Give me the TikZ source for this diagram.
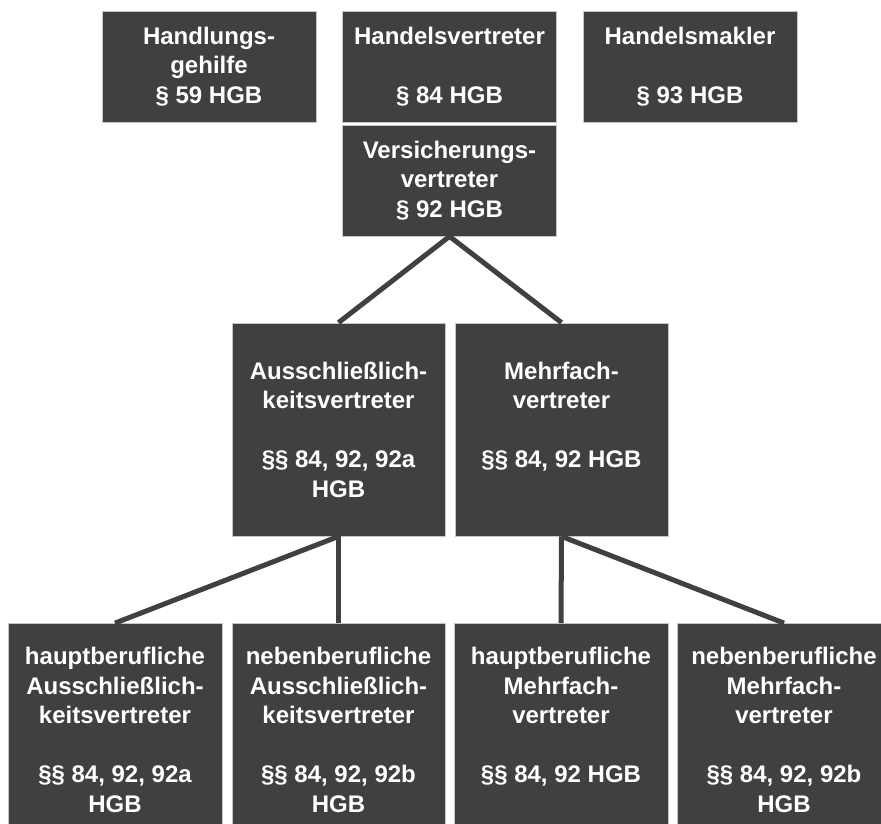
\documentclass[tikz,border=0pt]{standalone}
\usepackage{fontspec}
\setmainfont{Liberation Sans}
\definecolor{boxgray}{HTML}{404040}
\tikzset{
  hgbbox/.style={fill=boxgray, draw=gray!45, line width=0.8pt, text=white,
    align=center, inner sep=0pt, minimum width=214pt,
    font=\fontsize{24}{29.5}\selectfont\bfseries},
  topbox/.style={hgbbox, minimum height=111pt},
  bigbox/.style={hgbbox, minimum width=213pt, minimum height=213pt},
  link/.style={boxgray, line width=5pt}
}

\begin{document}
\begin{tikzpicture}[x=1pt,y=-1pt]
  \useasboundingbox (0,0) rectangle (881,823);
  % top row
  \node[topbox] (gehilfe) at (209,66.5) {Handlungs-\\gehilfe\\§ 59 HGB};
  \node[topbox] (hvertr) at (449.5,66.5) {Handelsvertreter\\\mbox{}\\§ 84 HGB};
  \node[topbox] (makler) at (690,66.5) {Handelsmakler\\\mbox{}\\§ 93 HGB};
  \node[topbox] (versich) at (449.5,180.5) {Versicherungs-\\vertreter\\§ 92 HGB};
  % middle row
  \node[bigbox] (aussch) at (338.5,429.5) {Ausschließlich-\\keitsvertreter\\\mbox{}\\§§ 84, 92, 92a\\HGB};
  \node[bigbox] (mehrf) at (561.5,429.5) {Mehrfach-\\vertreter\\\mbox{}\\§§ 84, 92 HGB\\\mbox{}};
  % bottom row
  \node[bigbox,minimum width=214pt] (hausch) at (115,730) {hauptberufliche\\Ausschließlich-\\keitsvertreter\\\mbox{}\\§§ 84, 92, 92a\\HGB};
  \node[bigbox] (nausch) at (338.5,730) {nebenberufliche\\Ausschließlich-\\keitsvertreter\\\mbox{}\\§§ 84, 92, 92b\\HGB};
  \node[bigbox,minimum width=214pt] (hmehrf) at (561,730) {hauptberufliche\\Mehrfach-\\vertreter\\\mbox{}\\§§ 84, 92 HGB\\\mbox{}};
  \node[bigbox,minimum width=214pt] (nmehrf) at (784,730) {nebenberufliche\\Mehrfach-\\vertreter\\\mbox{}\\§§ 84, 92, 92b\\HGB};
  % connectors
  \draw[link] (versich.south) -- (aussch.north);
  \draw[link] (versich.south) -- (mehrf.north);
  \draw[link] (aussch.south) -- (hausch.north);
  \draw[link] (aussch.south) -- (nausch.north);
  \draw[link] (mehrf.south) -- (hmehrf.north);
  \draw[link] (mehrf.south) -- (nmehrf.north);
\end{tikzpicture}
\end{document}
